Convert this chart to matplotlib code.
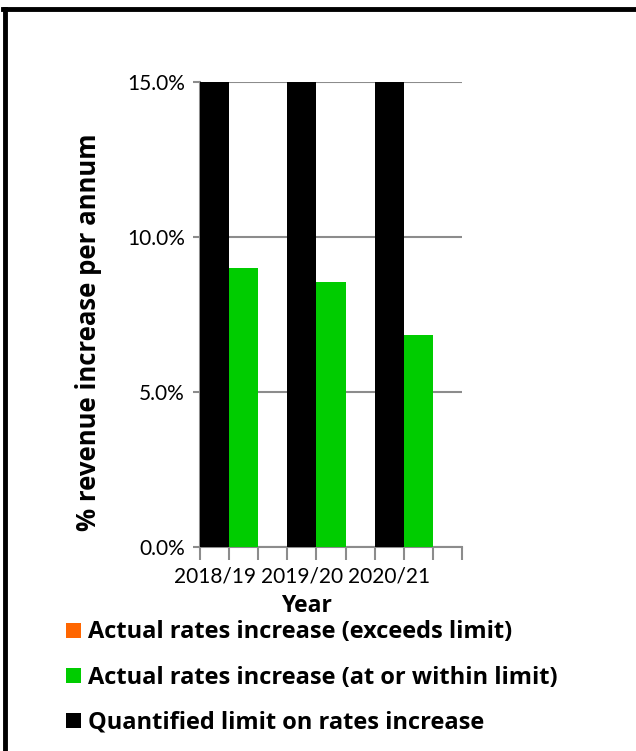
import matplotlib.pyplot as plt
from matplotlib.lines import Line2D
import numpy as np

plt.rcParams['font.family'] = ['Lato', 'DejaVu Sans']
BOLD = ['Open Sans', 'DejaVu Sans']

years = ['2018/19', '2019/20', '2020/21']
limit = [15.0, 15.0, 15.0]
within_limit = [9.0, 8.55, 6.85]
exceeds_limit = [0.0, 0.0, 0.0]

series_names = ['Actual rates increase (exceeds limit)',
                'Actual rates increase (at or within limit)',
                'Quantified limit on rates increase']
orange = '#ff6600'
green = '#00cc00'
grey = '#8c8c8c'

fig = plt.figure(figsize=(6.36, 7.51), dpi=100)
ax = fig.add_axes([200 / 636, 1 - 547 / 751, 262 / 636, 465 / 751])

# three slots per year: limit, actual, gap
x = np.arange(len(years)) * 3
b_exc = ax.bar(x + 1.5, exceeds_limit, width=1.0, color=orange, linewidth=0, zorder=3)
b_in = ax.bar(x + 1.5, within_limit, width=1.0, color=green, linewidth=0, zorder=3)
b_lim = ax.bar(x + 0.5, limit, width=1.0, color='black', linewidth=0, zorder=3)

ax.set_xlim(0, 9)
ax.set_ylim(0, 15)
ax.set_yticks([0, 5, 10, 15])
ax.set_yticklabels(['0.0%', '5.0%', '10.0%', '15.0%'])
ax.yaxis.grid(True, color=grey, linewidth=1.5, zorder=0)
ax.set_xticks(x + 0.5)
ax.set_xticklabels(years)
ax.set_xticks(np.arange(0, 10), minor=True)
ax.tick_params(axis='x', which='major', length=0, pad=14, labelsize=15)
ax.tick_params(axis='x', which='minor', length=9, width=1.5, color=grey, direction='out')
ax.tick_params(axis='y', length=5, width=1.5, color=grey, labelsize=15, pad=6)

for s in ['top', 'right']:
    ax.spines[s].set_visible(False)
for s in ['left', 'bottom']:
    ax.spines[s].set_color(grey)
    ax.spines[s].set_linewidth(1.5)

ax.set_ylabel('% revenue increase per annum', fontsize=18.5, fontweight='bold', family=BOLD)
ax.yaxis.set_label_coords(-0.427, 0.462)
ax.yaxis.label.set_va('center')
ax.set_xlabel('Year', fontsize=16.5, fontweight='bold', family=BOLD)
ax.xaxis.set_label_coords(0.405, -0.1)

handles = [b_exc, b_in, b_lim]
leg = fig.legend(handles, series_names, loc='upper left', bbox_to_anchor=(57 / 636, 1 - 611 / 751),
                 frameon=False, prop={'weight': 'bold', 'size': 17, 'family': BOLD},
                 handlelength=0.6, handleheight=0.6, handletextpad=0.3, labelspacing=0.9,
                 borderaxespad=0)
for h, c in zip(leg.legend_handles, [orange, green, 'black']):
    h.set_color(c)

# outer border (top and left only visible in reference)
fig.add_artist(Line2D([4.5 / 636, 4.5 / 636], [0, 1 - 9 / 751], color='black', lw=3.5,
                      transform=fig.transFigure))
fig.add_artist(Line2D([3 / 636, 1], [1 - 9 / 751, 1 - 9 / 751], color='black', lw=3.5,
                      transform=fig.transFigure))

fig.savefig('out.png', dpi=100)
